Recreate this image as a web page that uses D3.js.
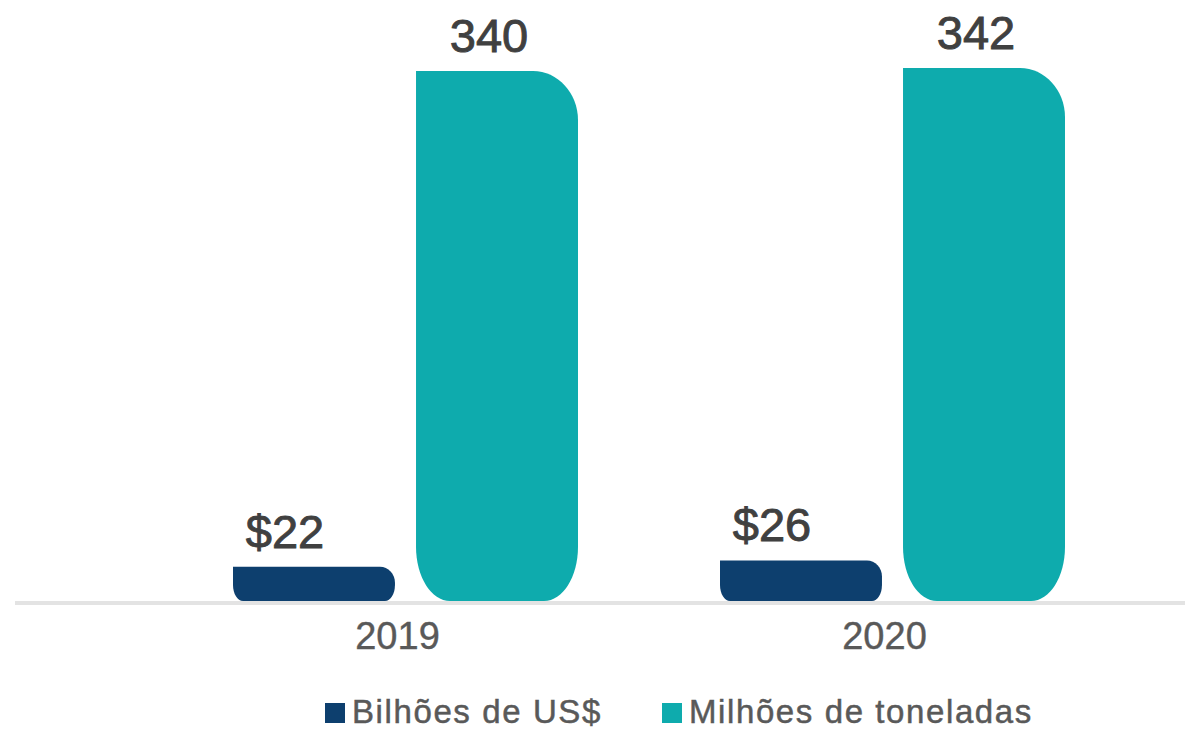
<!DOCTYPE html>
<html>
<head>
<meta charset="utf-8">
<title>Bilhões e toneladas</title>
<script src="https://cdnjs.cloudflare.com/ajax/libs/d3/7.8.5/d3.min.js"></script>
<style>
  body { margin: 0; background: #fff; }
  svg { display: block; font-family: "Liberation Sans", Arial, sans-serif; }
  .val { fill: #404040; stroke: #404040; stroke-width: 0.9px; }
  .tick text { fill: #595959; stroke: #595959; stroke-width: 0.4px; }
  .leg text { fill: #595959; stroke: #595959; stroke-width: 0.5px; }
</style>
</head>
<body>
<div id="chart"></div>
<script>
// data
var years = ["2019", "2020"];
var seriesNames = ["Bilhões de US$", "Milhões de toneladas"];
var usd = [22, 26];
var tons = [340, 342];
var labelsUsd = ["$22", "$26"];
var labelsTons = ["340", "342"];
var colors = ["#0d3f6e", "#0eabad"];

var width = 1185, height = 733;
var baseY = 601;

var svg = d3.select("#chart").append("svg")
  .attr("width", width).attr("height", height);

var x0 = d3.scaleBand().domain(years).range([162, 1136])
  .paddingInner(0.2916).paddingOuter(0.1458);
var x1 = d3.scaleBand().domain(seriesNames).range([0, x0.bandwidth()])
  .paddingInner(0.115).paddingOuter(0);
var y = d3.scaleLinear().domain([0, 340]).range([baseY, 71]);

// bar shape: square top-left, rounded other corners (elliptical)
function barPath(x, yt, w, h, tr, bl) {
  var p = d3.path();
  p.moveTo(x, yt);
  p.lineTo(x + w - tr[0], yt);
  p.bezierCurveTo(x + w - tr[0] * 0.45, yt, x + w, yt + tr[1] * 0.45, x + w, yt + tr[1]);
  p.lineTo(x + w, yt + h - bl[1]);
  p.bezierCurveTo(x + w, yt + h - bl[1] * 0.45, x + w - bl[0] * 0.45, yt + h, x + w - bl[0], yt + h);
  p.lineTo(x + bl[0], yt + h);
  p.bezierCurveTo(x + bl[0] * 0.45, yt + h, x, yt + h - bl[1] * 0.45, x, yt + h - bl[1]);
  p.closePath();
  return p.toString();
}

var rows = years.map(function(yr, i) {
  return { year: yr, vals: [
    { s: seriesNames[0], v: usd[i], lab: labelsUsd[i], c: colors[0], tr: [15, 16], bl: [10, 16], dx: -29 },
    { s: seriesNames[1], v: tons[i], lab: labelsTons[i], c: colors[1], tr: [45, 49], bl: [34, 54], dx: -8 }
  ]};
});

// axis line
svg.append("rect")
  .attr("x", 15).attr("y", baseY).attr("width", width - 15).attr("height", 4)
  .attr("fill", "#e3e3e3");

var g = svg.selectAll("g.grp").data(rows).enter().append("g")
  .attr("class", "grp")
  .attr("transform", function(d) { return "translate(" + x0(d.year) + ",0)"; });

g.selectAll("path").data(function(d) { return d.vals; }).enter().append("path")
  .attr("fill", function(d) { return d.c; })
  .attr("d", function(d) {
    var top = y(d.v), h = baseY - top;
    return barPath(x1(d.s), top, x1.bandwidth(), h, d.tr, d.bl);
  });

g.selectAll("text.val").data(function(d) { return d.vals; }).enter().append("text")
  .attr("class", "val")
  .attr("x", function(d) { return x1(d.s) + x1.bandwidth() / 2 + d.dx; })
  .attr("y", function(d) { return y(d.v) - 19; })
  .attr("text-anchor", "middle")
  .attr("font-size", "47px")
  .text(function(d) { return d.lab; });

// x axis labels
var xAxis = svg.append("g")
  .attr("transform", "translate(-8," + baseY + ")")
  .call(d3.axisBottom(x0).tickSize(0).tickPadding(21));
xAxis.select(".domain").remove();
xAxis.selectAll("text").attr("font-size", "38px").attr("font-family", "Liberation Sans, Arial, sans-serif");

// legend
var legX = [325, 662];
var leg = svg.selectAll("g.leg").data(seriesNames).enter().append("g")
  .attr("class", "leg")
  .attr("transform", function(d, i) { return "translate(" + legX[i] + ",703)"; });
leg.append("rect").attr("width", 20).attr("height", 20)
  .attr("fill", function(d, i) { return colors[i]; });
leg.append("text")
  .attr("x", 27).attr("y", 20)
  .attr("font-size", "33px")
  .attr("letter-spacing", "1.6px")
  .text(function(d) { return d; });
</script>
</body>
</html>
